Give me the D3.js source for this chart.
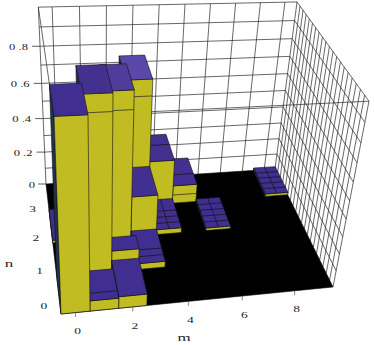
<!DOCTYPE html>
<html>
<head>
<meta charset="utf-8">
<script src="https://cdn.jsdelivr.net/npm/d3@7"></script>
<style>
html, body { margin: 0; padding: 0; background: #fff; }
svg { display: block; }
text { font-family: "Liberation Serif", serif; fill: #222; opacity: 0.99; }
</style>
</head>
<body>
<svg width="374" height="345"></svg>
<script>
// one entry per bar: m column, n range covered, height
var barM    = [0, 1, 2, 1, 2, 3, 0, 2, 3, 4, 6, 3, 4, 5, 9];
var barNLow = [-0.5, -0.5, -0.5, 0.5, 0.5, 0.5, 1.5, 1.5, 1.5, 1.5, 1.5, 2.5, 2.5, 2.5, 2.5];
var barNTop = [0.5, 0.3, 0.5, 1.5, 0.9, 1.5, 2.5, 2.5, 2.5, 2.5, 2.5, 3.5, 3.5, 3.5, 3.5];
var barZ    = [1, 0.06, 0.068, 0.95, 0.124, 0.035, 0.016, 0.82, 0.24, 0.03, 0.016, 0.735, 0.268, 0.11, 0.016];
// extra line across the front face of some bars (null = none)
var barFaceLine = [null, null, null, 0.862, null, null, null, 0.72, null, null, null, 0.644, null, 0.052, null];
// n values where the top of a bar has a line across it
var barRowLines = [[], [-0.3], [], [], [], [0.7, 0.9], [], [], [], [1.7, 1.9, 2.1], [1.7, 1.9, 2.1, 2.3], [], [3.1], [2.9], [2.7, 2.9, 3.1, 3.3]];
var barSplit = [false, false, false, false, false, false, false, false, false, true, true, false, false, false, true];

var mTicks = [0, 2, 4, 6, 8];
var nTicks = [0, 1, 2, 3];
var zTicks = [0, 0.2, 0.4, 0.6, 0.8];
var zTickLabels = ["0", "0 .2", "0 .4", "0 .6", "0 .8"];
var mGrid = d3.range(0, 10);
var nGrid = d3.range(-0.3, 3.5, 0.2);
var zGrid = d3.range(0.1, 1, 0.1);

var svg = d3.select("svg");

var uScale = d3.scaleLinear().domain([-0.5, 9.5]).range([0, 1]);
var vScale = d3.scaleLinear().domain([-0.5, 3.5]).range([0, 1]);
var wScale = d3.scaleLinear().domain([0, 1]).range([0, 1]);

// camera fitted to the corners of the plot box
function project(m, n, z) {
    var u = uScale(m), v = vScale(n), w = wScale(z);
    var d = 1 + 0.0754 * u + 0.2069 * v - 0.145 * w;
    return [(61 + 297.1 * u - 5.48 * v - 14.8 * w) / d,
            (314 - 5.36 * u - 91.93 * v - 214.5 * w) / d];
}

var path = d3.line();
var gridColor = "#262626";

function seg(parent, a, b, color, w) {
    parent.append("path")
        .attr("d", path([a, b]))
        .attr("fill", "none")
        .attr("stroke", color || gridColor)
        .attr("stroke-width", w || 0.7);
}

function poly(parent, pts, fill, edge) {
    parent.append("path")
        .attr("d", path(pts) + "Z")
        .attr("fill", fill)
        .attr("stroke", edge || "#111")
        .attr("stroke-width", 0.6)
        .attr("stroke-linejoin", "round");
}

var M0 = -0.5, M1 = 9.5, N0 = -0.5, N1 = 3.5;

var walls = svg.append("g");

// back wall
mGrid.forEach(function(m) { seg(walls, project(m, N1, 0), project(m, N1, 1)); });
zGrid.forEach(function(z) { seg(walls, project(M0, N1, z), project(M1, N1, z)); });
// right wall
nGrid.forEach(function(n) { seg(walls, project(M1, n, 0), project(M1, n, 1)); });
zGrid.forEach(function(z) { seg(walls, project(M1, N0, z), project(M1, N1, z)); });

// box outline
[[[M0, N1, 0], [M0, N1, 1]], [[M1, N1, 0], [M1, N1, 1]], [[M1, N0, 0], [M1, N0, 1]],
 [[M0, N1, 1], [M1, N1, 1]], [[M1, N1, 1], [M1, N0, 1]], [[M1, N0, 1], [M0, N0, 1]],
 [[M0, N0, 1], [M0, N1, 1]]].forEach(function(e) {
    seg(walls, project(e[0][0], e[0][1], e[0][2]), project(e[1][0], e[1][1], e[1][2]));
});

// floor
poly(svg, [project(M0, N0, 0), project(M1, N0, 0), project(M1, N1, 0), project(M0, N1, 0)], "#000", "#000");

// bars, far ones first
var shade = d3.scaleLinear().domain([0, 1, 2.2]).range(["#402f90", "#43318f", "#5a48a8"]);
var yellow = "#c0bc22", side = "#1f3350";

var order = d3.range(barM.length).sort(function(a, b) {
    return d3.descending(barNLow[a], barNLow[b]) || d3.descending(barM[a], barM[b]);
});

var bars = svg.append("g");
order.forEach(function(i) {
    var m0 = barM[i] - 0.5, m1 = barM[i] + 0.5;
    var n0 = barNLow[i], n1 = barNTop[i], z = barZ[i];
    // left side, front, top
    poly(bars, [project(m0, n0, 0), project(m0, n1, 0), project(m0, n1, z), project(m0, n0, z)], side);
    poly(bars, [project(m0, n0, 0), project(m1, n0, 0), project(m1, n0, z), project(m0, n0, z)], yellow);
    poly(bars, [project(m0, n0, z), project(m1, n0, z), project(m1, n1, z), project(m0, n1, z)],
        shade(Math.max(0, barNLow[i] + 0.5) * z));

    if (barFaceLine[i] !== null) {
        seg(bars, project(m0, n0, barFaceLine[i]), project(m1, n0, barFaceLine[i]), "#222", 0.7);
    }
    barRowLines[i].forEach(function(n) {
        seg(bars, project(m0, n, z), project(m1, n, z), "#111", 0.7);
    });
    if (barSplit[i]) {
        seg(bars, project(barM[i], n0, z), project(barM[i], n1, z), "#111", 0.7);
    }
});

// text helper, the source text is stretched sideways
function label(x, y, str, size, stretch) {
    svg.append("text")
        .attr("transform", "translate(" + x + "," + y + ") scale(" + stretch + ",1)")
        .attr("text-anchor", "middle")
        .attr("dy", "0.35em")
        .attr("font-size", size)
        .text(str);
}

// axes
mTicks.forEach(function(m) {
    var p = project(m, N0, 0);
    seg(svg, p, [p[0], p[1] + 4.5], "#555", 0.7);
    label(p[0] + 2, p[1] + 18.5, String(m), 9, 1.5);
});
nTicks.forEach(function(n) {
    var p = project(M0, n, 0);
    label(p[0] - 15, p[1] + 11, String(n), 9, 1.5);
});
zTicks.forEach(function(z, i) {
    var p = project(M0, N1, z);
    seg(svg, p, [p[0] - 8, p[1]], "#333", 0.8);
    label(p[0] - (i === 0 ? 14 : 21.5), p[1] + 0.5, zTickLabels[i], 9, 1.4);
});

label(184, 337, "m", 10, 1.7);
label(9, 263, "n", 10, 1.7);
</script>
</body>
</html>
